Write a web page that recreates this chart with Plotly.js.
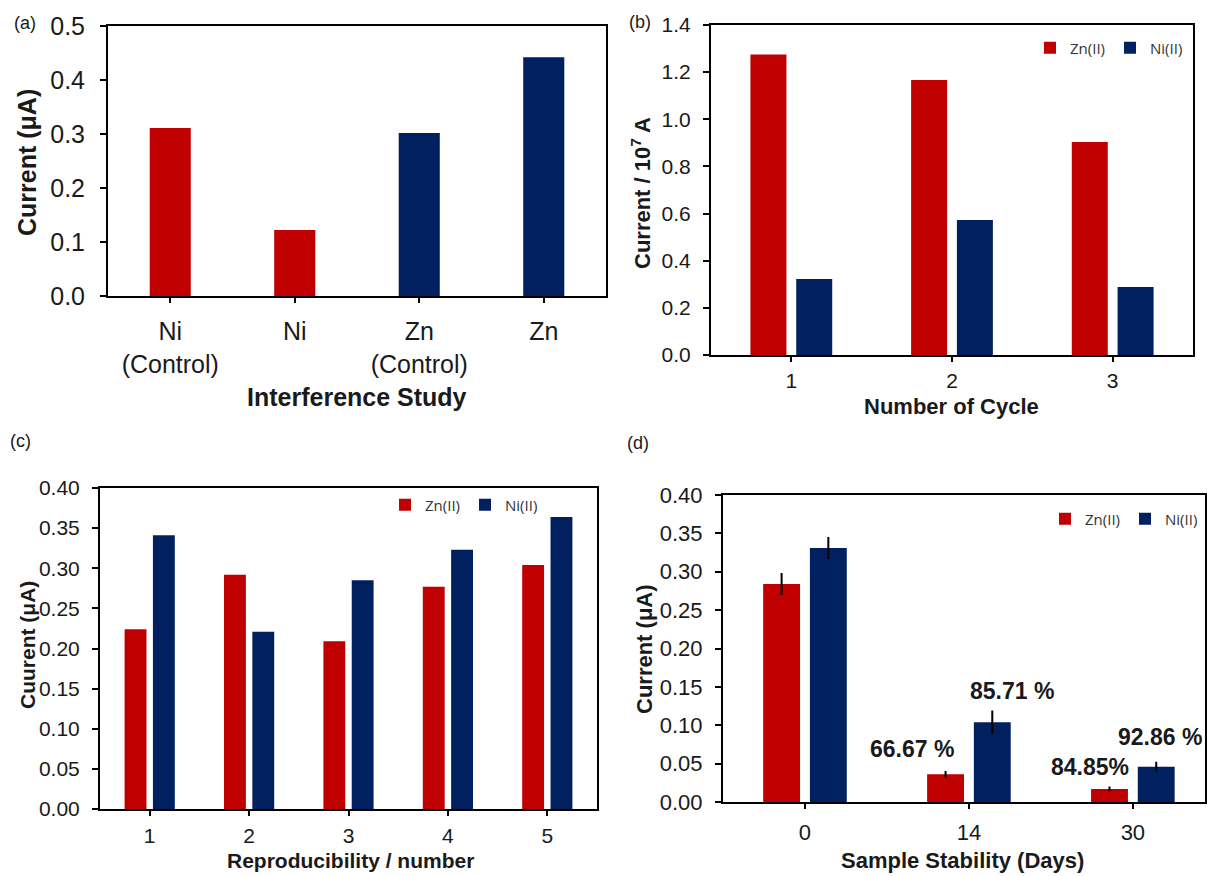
<!DOCTYPE html>
<html><head><meta charset="utf-8">
<script src="https://cdn.plot.ly/plotly-3.0.1.min.js"></script>
<style>html,body{margin:0;padding:0;background:#fff}#chart{width:1207px;height:876px}</style>
</head><body><div id="chart"></div>
<script>
// ---------- data ----------
const interfCategories = ['Ni<br>(Control)', 'Ni', 'Zn<br>(Control)', 'Zn'];
const interfCurrent = [0.311, 0.122, 0.302, 0.442];

const cycleCategories = ['1', '2', '3'];
const cycleZn = [1.275, 1.167, 0.904];
const cycleNi = [0.322, 0.573, 0.288];

const reproCategories = ['1', '2', '3', '4', '5'];
const reproZn = [0.224, 0.292, 0.209, 0.277, 0.304];
const reproNi = [0.341, 0.221, 0.285, 0.323, 0.364];

const stabCategories = ['0', '14', '30'];
const stabZn = [0.284, 0.036, 0.017];
const stabZnErr = [0.013, 0.003, 0.002];
const stabNi = [0.331, 0.104, 0.046];
const stabNiErr = [0.013, 0.014, 0.005];
const stabLabelZn = [null, '66.67 %', '84.85%'];
const stabLabelNi = [null, '85.71 %', '92.86 %'];

const seriesNames = ['Zn(II)', 'Ni(II)'];

// ---------- style ----------
const W = 1207, H = 876;
const RED = '#C00000', NAVY = '#002060';
const FONT = 'Arial, "Liberation Sans", sans-serif';
const INK = '#1a1a1a';
const px = x => x / W;
const py = y => 1 - y / H;

const dom = {
  a: {x: [108, 606], y: [26, 296]},
  b: {x: [711, 1193], y: [25, 355]},
  c: {x: [100, 597], y: [488, 809]},
  d: {x: [723, 1205], y: [495, 802]}
};

function xAxis(d, anchor, size, extra) {
  return Object.assign({
    domain: [px(d.x[0]), px(d.x[1])], anchor: anchor, type: 'category',
    showline: true, linecolor: '#000', linewidth: 2, mirror: true,
    ticks: 'outside', ticklen: 5, tickwidth: 2, tickcolor: '#000',
    showgrid: false, zeroline: false, fixedrange: true,
    tickfont: {family: FONT, size: size, color: INK}
  }, extra || {});
}
function yAxis(d, anchor, size, range, dtick, fmt, extra) {
  return Object.assign({
    domain: [py(d.y[1]), py(d.y[0])], anchor: anchor, range: range, dtick: dtick,
    tickformat: fmt, showline: true, linecolor: '#000', linewidth: 2, mirror: true,
    ticks: 'outside', ticklen: 6, tickwidth: 2, tickcolor: '#000',
    showgrid: false, zeroline: false, fixedrange: true,
    tickfont: {family: FONT, size: size, color: INK}
  }, extra || {});
}

const traces = [
  {type: 'bar', x: interfCategories, y: interfCurrent, xaxis: 'x', yaxis: 'y',
   width: 0.33, showlegend: false,
   marker: {color: interfCategories.map(c => c.startsWith('Ni') ? RED : NAVY)}},
  {type: 'bar', name: seriesNames[0], x: cycleCategories, y: cycleZn, xaxis: 'x2', yaxis: 'y2',
   width: 0.224, marker: {color: RED}, legend: 'legend'},
  {type: 'bar', name: seriesNames[1], x: cycleCategories, y: cycleNi, xaxis: 'x2', yaxis: 'y2',
   width: 0.224, marker: {color: NAVY}, legend: 'legend'},
  {type: 'bar', name: seriesNames[0], x: reproCategories, y: reproZn, xaxis: 'x3', yaxis: 'y3',
   width: 0.22, marker: {color: RED}, legend: 'legend2'},
  {type: 'bar', name: seriesNames[1], x: reproCategories, y: reproNi, xaxis: 'x3', yaxis: 'y3',
   width: 0.22, marker: {color: NAVY}, legend: 'legend2'},
  {type: 'bar', name: seriesNames[0], x: stabCategories, y: stabZn, xaxis: 'x4', yaxis: 'y4',
   width: 0.225, marker: {color: RED}, legend: 'legend3',
   error_y: {type: 'data', array: stabZnErr, visible: true, color: '#000', thickness: 2, width: 1}},
  {type: 'bar', name: seriesNames[1], x: stabCategories, y: stabNi, xaxis: 'x4', yaxis: 'y4',
   width: 0.225, marker: {color: NAVY}, legend: 'legend3',
   error_y: {type: 'data', array: stabNiErr, visible: true, color: '#000', thickness: 2, width: 1}}
];

const legFont = {family: '"Open Sans", sans-serif', size: 15, color: '#333'};
function legend(xr, yc) {
  return {orientation: 'h', x: px(xr), xanchor: 'right', y: py(yc), yanchor: 'middle',
          bgcolor: 'rgba(0,0,0,0)', font: legFont, itemwidth: 30, tracegroupgap: 0};
}

function txt(text, x, y, size, opts) {
  return Object.assign({text: text, xref: 'paper', yref: 'paper', x: px(x), y: py(y),
    xanchor: 'center', yanchor: 'middle', showarrow: false,
    font: {family: FONT, size: size, color: INK}}, opts || {});
}
const B = s => '<b>' + s + '</b>';

const annotations = [
  txt('(a)', 25, 23, 18),
  txt('(b)', 640, 22, 18),
  txt('(c)', 20, 441, 18),
  txt('(d)', 638, 443, 18),
  txt(B('Current (μA)'), 27, 163, 25, {textangle: -90}),
  txt(B('Interference Study'), 357, 397, 25),
  txt(B('Current / 10<sup>7</sup> A'), 641, 193, 22, {textangle: -90}),
  txt(B('Number of Cycle'), 952, 406, 22),
  txt(B('Cuurent (μA)'), 27, 645, 21, {textangle: -90}),
  txt(B('Reproducibility / number'), 350, 860, 21),
  txt(B('Current (μA)'), 644, 649, 22, {textangle: -90}),
  txt(B('Sample Stability (Days)'), 962, 860, 22)
];

// percentage labels in (d), placed relative to their bars
const labelShift = {Zn: [[0, 0], [-57, 25], [-43, 22]], Ni: [[0, 0], [43, 31], [27, 30]]};
stabCategories.forEach((c, i) => {
  if (stabLabelZn[i]) annotations.push({text: B(stabLabelZn[i]), xref: 'x4', yref: 'y4',
    x: i, y: stabZn[i], xshift: labelShift.Zn[i][0], yshift: labelShift.Zn[i][1],
    showarrow: false, font: {family: FONT, size: 23, color: INK}});
  if (stabLabelNi[i]) annotations.push({text: B(stabLabelNi[i]), xref: 'x4', yref: 'y4',
    x: i, y: stabNi[i], xshift: labelShift.Ni[i][0], yshift: labelShift.Ni[i][1],
    showarrow: false, font: {family: FONT, size: 23, color: INK}});
});

const layout = {
  width: W, height: H, margin: {l: 0, r: 0, t: 0, b: 0},
  paper_bgcolor: '#fff', plot_bgcolor: '#fff',
  barmode: 'group', bargap: 0.43, bargroupgap: 0,
  xaxis: xAxis(dom.a, 'y', 25, {ticklabelstandoff: 7}),
  yaxis: yAxis(dom.a, 'x', 25, [0, 0.5], 0.1, '.1f', {ticklabelstandoff: 10}),
  xaxis2: xAxis(dom.b, 'y2', 21, {ticklabelstandoff: 1}),
  yaxis2: yAxis(dom.b, 'x2', 21, [0, 1.4], 0.2, '.1f', {ticklabelstandoff: 8}),
  xaxis3: xAxis(dom.c, 'y3', 21, {ticklabelstandoff: 2}),
  yaxis3: yAxis(dom.c, 'x3', 21, [0, 0.4], 0.05, '.2f', {ticklabelstandoff: 8}),
  xaxis4: xAxis(dom.d, 'y4', 22, {ticklabelstandoff: 5, range: [-0.5, 2.44]}),
  yaxis4: yAxis(dom.d, 'x4', 22, [0, 0.4], 0.05, '.2f', {ticklabelstandoff: 8}),
  legend: legend(1188, 48),
  legend2: legend(543, 505),
  legend3: legend(1203, 519),
  annotations: annotations
};

Plotly.newPlot('chart', traces, layout, {staticPlot: true, displayModeBar: false});
</script>
</body></html>
